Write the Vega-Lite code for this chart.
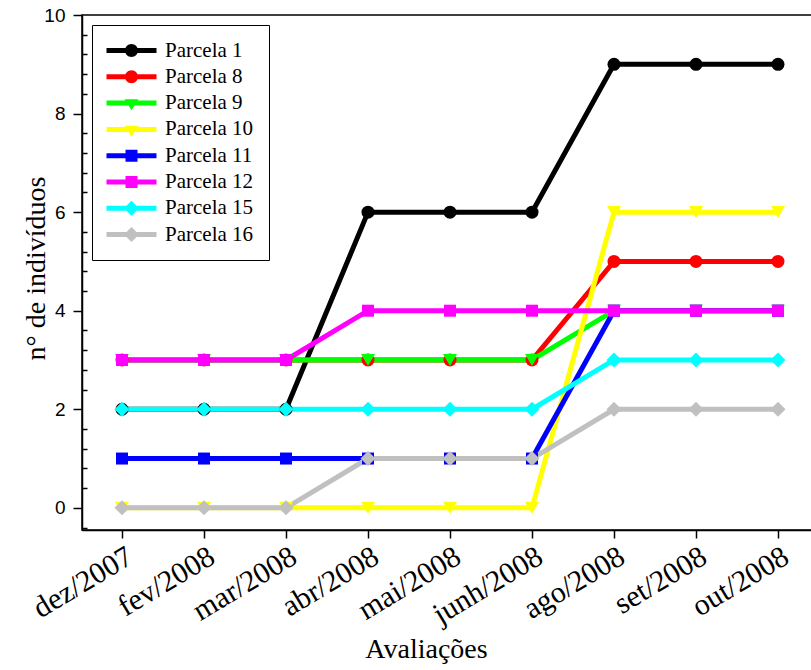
{
  "$schema": "https://vega.github.io/schema/vega-lite/v6.json",
  "width": 736,
  "height": 515,
  "autosize": {"type": "none"},
  "padding": {"left": 82, "top": 15, "right": 0, "bottom": 140},
  "background": "white",
  "config": {
    "view": {"stroke": "black", "strokeWidth": 1.5},
    "axis": {"domainColor": "black", "tickColor": "black", "labelColor": "black", "titleColor": "black", "grid": false},
    "axisX": {"titleFont": "Liberation Serif", "titleFontSize": 28, "titleFontWeight": "normal", "titleX": 344, "titleY": 127, "titleBaseline": "alphabetic", "labelAngle": -31, "labelFont": "Liberation Serif", "labelFontSize": 30, "labelAlign": "right", "labelBaseline": "top", "labelPadding": 3, "tickSize": 8, "tickWidth": 1.5, "domainWidth": 1.5, "labelOverlap": false, "labelBound": false}
  },
  "data": {
    "values": [
      {"m": "dez/2007", "p": "Parcela 1", "n": 2}, {"m": "fev/2008", "p": "Parcela 1", "n": 2}, {"m": "mar/2008", "p": "Parcela 1", "n": 2}, {"m": "abr/2008", "p": "Parcela 1", "n": 6}, {"m": "mai/2008", "p": "Parcela 1", "n": 6}, {"m": "junh/2008", "p": "Parcela 1", "n": 6}, {"m": "ago/2008", "p": "Parcela 1", "n": 9}, {"m": "set/2008", "p": "Parcela 1", "n": 9}, {"m": "out/2008", "p": "Parcela 1", "n": 9},
      {"m": "dez/2007", "p": "Parcela 8", "n": 3}, {"m": "fev/2008", "p": "Parcela 8", "n": 3}, {"m": "mar/2008", "p": "Parcela 8", "n": 3}, {"m": "abr/2008", "p": "Parcela 8", "n": 3}, {"m": "mai/2008", "p": "Parcela 8", "n": 3}, {"m": "junh/2008", "p": "Parcela 8", "n": 3}, {"m": "ago/2008", "p": "Parcela 8", "n": 5}, {"m": "set/2008", "p": "Parcela 8", "n": 5}, {"m": "out/2008", "p": "Parcela 8", "n": 5},
      {"m": "dez/2007", "p": "Parcela 9", "n": 3}, {"m": "fev/2008", "p": "Parcela 9", "n": 3}, {"m": "mar/2008", "p": "Parcela 9", "n": 3}, {"m": "abr/2008", "p": "Parcela 9", "n": 3}, {"m": "mai/2008", "p": "Parcela 9", "n": 3}, {"m": "junh/2008", "p": "Parcela 9", "n": 3}, {"m": "ago/2008", "p": "Parcela 9", "n": 4}, {"m": "set/2008", "p": "Parcela 9", "n": 4}, {"m": "out/2008", "p": "Parcela 9", "n": 4},
      {"m": "dez/2007", "p": "Parcela 10", "n": 0}, {"m": "fev/2008", "p": "Parcela 10", "n": 0}, {"m": "mar/2008", "p": "Parcela 10", "n": 0}, {"m": "abr/2008", "p": "Parcela 10", "n": 0}, {"m": "mai/2008", "p": "Parcela 10", "n": 0}, {"m": "junh/2008", "p": "Parcela 10", "n": 0}, {"m": "ago/2008", "p": "Parcela 10", "n": 6}, {"m": "set/2008", "p": "Parcela 10", "n": 6}, {"m": "out/2008", "p": "Parcela 10", "n": 6},
      {"m": "dez/2007", "p": "Parcela 11", "n": 1}, {"m": "fev/2008", "p": "Parcela 11", "n": 1}, {"m": "mar/2008", "p": "Parcela 11", "n": 1}, {"m": "abr/2008", "p": "Parcela 11", "n": 1}, {"m": "mai/2008", "p": "Parcela 11", "n": 1}, {"m": "junh/2008", "p": "Parcela 11", "n": 1}, {"m": "ago/2008", "p": "Parcela 11", "n": 4}, {"m": "set/2008", "p": "Parcela 11", "n": 4}, {"m": "out/2008", "p": "Parcela 11", "n": 4},
      {"m": "dez/2007", "p": "Parcela 12", "n": 3}, {"m": "fev/2008", "p": "Parcela 12", "n": 3}, {"m": "mar/2008", "p": "Parcela 12", "n": 3}, {"m": "abr/2008", "p": "Parcela 12", "n": 4}, {"m": "mai/2008", "p": "Parcela 12", "n": 4}, {"m": "junh/2008", "p": "Parcela 12", "n": 4}, {"m": "ago/2008", "p": "Parcela 12", "n": 4}, {"m": "set/2008", "p": "Parcela 12", "n": 4}, {"m": "out/2008", "p": "Parcela 12", "n": 4},
      {"m": "dez/2007", "p": "Parcela 15", "n": 2}, {"m": "fev/2008", "p": "Parcela 15", "n": 2}, {"m": "mar/2008", "p": "Parcela 15", "n": 2}, {"m": "abr/2008", "p": "Parcela 15", "n": 2}, {"m": "mai/2008", "p": "Parcela 15", "n": 2}, {"m": "junh/2008", "p": "Parcela 15", "n": 2}, {"m": "ago/2008", "p": "Parcela 15", "n": 3}, {"m": "set/2008", "p": "Parcela 15", "n": 3}, {"m": "out/2008", "p": "Parcela 15", "n": 3},
      {"m": "dez/2007", "p": "Parcela 16", "n": 0}, {"m": "fev/2008", "p": "Parcela 16", "n": 0}, {"m": "mar/2008", "p": "Parcela 16", "n": 0}, {"m": "abr/2008", "p": "Parcela 16", "n": 1}, {"m": "mai/2008", "p": "Parcela 16", "n": 1}, {"m": "junh/2008", "p": "Parcela 16", "n": 1}, {"m": "ago/2008", "p": "Parcela 16", "n": 2}, {"m": "set/2008", "p": "Parcela 16", "n": 2}, {"m": "out/2008", "p": "Parcela 16", "n": 2}
    ]
  },
  "resolve": {"axis": {"y": "independent"}},
  "layer": [
    {
      "mark": {"type": "point", "filled": true, "opacity": 0, "size": 100},
      "encoding": {
        "x": {"field": "m", "type": "ordinal", "sort": ["dez/2007", "fev/2008", "mar/2008", "abr/2008", "mai/2008", "junh/2008", "ago/2008", "set/2008", "out/2008"], "scale": {"type": "point", "padding": 0.488}, "title": "Avaliações"},
        "y": {"field": "n", "type": "quantitative", "scale": {"domain": [-0.45, 10], "nice": false, "zero": false}, "axis": null},
        "color": {
          "field": "p", "type": "nominal",
          "scale": {"domain": ["Parcela 1", "Parcela 8", "Parcela 9", "Parcela 10", "Parcela 11", "Parcela 12", "Parcela 15", "Parcela 16"], "range": ["#000000", "#ff0000", "#00ff00", "#ffff00", "#0000ff", "#ff00ff", "#00ffff", "#c0c0c0"]},
          "legend": {"title": null, "orient": "top-left", "offset": 10, "padding": 15, "strokeColor": "black", "fillColor": "white", "labelFont": "Liberation Serif", "labelFontSize": 21, "labelColor": "black", "rowPadding": 4.3, "symbolSize": 100, "symbolOpacity": 1, "symbolStrokeWidth": 0, "labelOffset": 37, "labelLimit": 0}
        },
        "shape": {
          "field": "p", "type": "nominal",
          "scale": {"domain": ["Parcela 1", "Parcela 8", "Parcela 9", "Parcela 10", "Parcela 11", "Parcela 12", "Parcela 15", "Parcela 16"], "range": [
            "M-2.2,-0.5H7.8V0.5H-2.2ZM1.5,0A1.3,1.3 0 1,1 4.1,0A1.3,1.3 0 1,1 1.5,0Z",
            "M-2.2,-0.5H7.8V0.5H-2.2ZM1.5,0A1.3,1.3 0 1,1 4.1,0A1.3,1.3 0 1,1 1.5,0Z",
            "M-2.2,-0.5H7.8V0.5H-2.2ZM1.4,-0.75L4.2,-0.75L2.8,1.45Z",
            "M-2.2,-0.5H7.8V0.5H-2.2ZM1.4,-0.75L4.2,-0.75L2.8,1.45Z",
            "M-2.2,-0.5H7.8V0.5H-2.2ZM1.6,-1.2H4.0V1.2H1.6Z",
            "M-2.2,-0.5H7.8V0.5H-2.2ZM1.6,-1.2H4.0V1.2H1.6Z",
            "M-2.2,-0.5H7.8V0.5H-2.2ZM2.8,-1.5L4.3,0L2.8,1.5L1.3,0Z",
            "M-2.2,-0.5H7.8V0.5H-2.2ZM2.8,-1.5L4.3,0L2.8,1.5L1.3,0Z"
          ]},
          "legend": {"title": null, "orient": "top-left", "offset": 10, "padding": 15, "strokeColor": "black", "fillColor": "white", "labelFont": "Liberation Serif", "labelFontSize": 21, "labelColor": "black", "rowPadding": 4.3, "symbolSize": 100, "symbolOpacity": 1, "symbolStrokeWidth": 0, "labelOffset": 37, "labelLimit": 0}
        }
      }
    },
    {
      "mark": {"type": "line", "strokeWidth": 5},
      "encoding": {
        "x": {"field": "m", "type": "ordinal", "sort": ["dez/2007", "fev/2008", "mar/2008", "abr/2008", "mai/2008", "junh/2008", "ago/2008", "set/2008", "out/2008"], "scale": {"type": "point", "padding": 0.488}, "title": "Avaliações"},
        "y": {"field": "n", "type": "quantitative", "scale": {"domain": [-0.45, 10], "nice": false, "zero": false},
          "axis": {"orient": "left", "values": [0, 2, 4, 6, 8, 10], "tickSize": 9, "tickWidth": 1.5, "domainWidth": 1.5, "labelFont": "Liberation Sans", "labelFontSize": 19, "labelPadding": 8, "title": "n° de indivíduos", "titleFont": "Liberation Serif", "titleFontSize": 28, "titleFontWeight": "normal", "titleX": -38, "titleY": 253, "titleBaseline": "alphabetic", "titleAngle": -90}},
        "color": {"field": "p", "type": "nominal", "legend": null}
      }
    },
    {
      "transform": [{"filter": {"field": "p", "oneOf": ["Parcela 1", "Parcela 8"]}}],
      "mark": {"type": "point", "shape": "circle", "filled": true, "size": 169, "opacity": 1},
      "encoding": {
        "x": {"field": "m", "type": "ordinal", "sort": ["dez/2007", "fev/2008", "mar/2008", "abr/2008", "mai/2008", "junh/2008", "ago/2008", "set/2008", "out/2008"], "title": "Avaliações"},
        "y": {"field": "n", "type": "quantitative", "axis": {"orient": "left", "values": [-0.4, 0.4, 0.8, 1.2, 1.6, 2.4, 2.8, 3.2, 3.6, 4.4, 4.8, 5.2, 5.6, 6.4, 6.8, 7.2, 7.6, 8.4, 8.8, 9.2, 9.6], "tickSize": -5, "tickWidth": 1.5, "labels": false, "domain": false, "title": null}},
        "color": {"field": "p", "type": "nominal", "legend": null}
      }
    },
    {
      "transform": [{"filter": {"field": "p", "oneOf": ["Parcela 9", "Parcela 10"]}}],
      "mark": {"type": "point", "shape": "triangle-down", "filled": true, "size": 196, "opacity": 1},
      "encoding": {
        "x": {"field": "m", "type": "ordinal", "sort": ["dez/2007", "fev/2008", "mar/2008", "abr/2008", "mai/2008", "junh/2008", "ago/2008", "set/2008", "out/2008"], "title": "Avaliações"},
        "y": {"field": "n", "type": "quantitative", "axis": null},
        "color": {"field": "p", "type": "nominal", "legend": null}
      }
    },
    {
      "transform": [{"filter": {"field": "p", "oneOf": ["Parcela 11", "Parcela 12"]}}],
      "mark": {"type": "point", "shape": "square", "filled": true, "size": 144, "opacity": 1},
      "encoding": {
        "x": {"field": "m", "type": "ordinal", "sort": ["dez/2007", "fev/2008", "mar/2008", "abr/2008", "mai/2008", "junh/2008", "ago/2008", "set/2008", "out/2008"], "title": "Avaliações"},
        "y": {"field": "n", "type": "quantitative", "axis": null},
        "color": {"field": "p", "type": "nominal", "legend": null}
      }
    },
    {
      "transform": [{"filter": {"field": "p", "oneOf": ["Parcela 15", "Parcela 16"]}}],
      "mark": {"type": "point", "shape": "diamond", "filled": true, "size": 225, "opacity": 1},
      "encoding": {
        "x": {"field": "m", "type": "ordinal", "sort": ["dez/2007", "fev/2008", "mar/2008", "abr/2008", "mai/2008", "junh/2008", "ago/2008", "set/2008", "out/2008"], "title": "Avaliações"},
        "y": {"field": "n", "type": "quantitative", "axis": null},
        "color": {"field": "p", "type": "nominal", "legend": null}
      }
    }
  ]
}
